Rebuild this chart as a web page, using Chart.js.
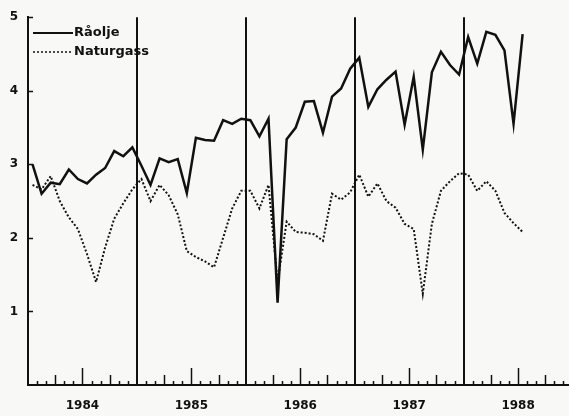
<!DOCTYPE html>
<html>
<head>
<meta charset="utf-8">
<script src="https://cdn.jsdelivr.net/npm/chart.js@4.4.1/dist/chart.umd.min.js"></script>
<style>
  html, body { margin: 0; padding: 0; background: #f8f8f6; }
  #wrap { width: 569px; height: 416px; position: relative; }
</style>
</head>
<body>
<div id="wrap"><canvas id="priceChart"></canvas></div>
<script>
// monthly values, Jan 1984 .. Jul 1988
const years = ['1984', '1985', '1986', '1987', '1988'];
const yTicks = [1, 2, 3, 4, 5];

const raolje = [
  3.00, 2.60, 2.75, 2.73, 2.93, 2.80, 2.74, 2.86, 2.95, 3.18, 3.11, 3.23,
  2.98, 2.72, 3.08, 3.03, 3.07, 2.61, 3.36, 3.33, 3.32, 3.60, 3.55, 3.62,
  3.60, 3.38, 3.62, 1.12, 3.34, 3.50, 3.85, 3.86, 3.43, 3.92, 4.03, 4.30,
  4.45, 3.78, 4.02, 4.15, 4.26, 3.54, 4.19, 3.20, 4.25, 4.53, 4.35, 4.22,
  4.73, 4.37, 4.80, 4.76, 4.55, 3.55, 4.77
];

const naturgass = [
  2.72, 2.66, 2.84, 2.50, 2.28, 2.12, 1.78, 1.40, 1.87, 2.26, 2.47, 2.66,
  2.80, 2.50, 2.72, 2.58, 2.32, 1.82, 1.74, 1.68, 1.60, 2.00, 2.40, 2.64,
  2.64, 2.40, 2.72, 1.40, 2.22, 2.08, 2.07, 2.05, 1.96, 2.60, 2.52, 2.62,
  2.86, 2.56, 2.74, 2.50, 2.41, 2.19, 2.12, 1.24, 2.19, 2.64, 2.77, 2.88,
  2.86, 2.64, 2.77, 2.64, 2.34, 2.20, 2.08
];

const ink = '#111111';

// inward axis ticks + the small legend in the top left corner
const axisDecor = {
  id: 'axisDecor',
  afterDraw(chart) {
    const { ctx, chartArea, scales } = chart;
    const xs = scales.x, ys = scales.y;
    ctx.save();
    ctx.strokeStyle = ink;
    ctx.lineWidth = 1.5;
    ctx.beginPath();
    for (let m = 1; m < 60; m++) {
      if (m % 12 === 0) continue;
      const len = m % 6 === 0 ? 17 : (m % 3 === 0 ? 10 : 4);
      const px = Math.round(xs.getPixelForValue(m)) + 0.5;
      if (px > chartArea.right) break;
      ctx.moveTo(px, chartArea.bottom);
      ctx.lineTo(px, chartArea.bottom - len);
    }
    yTicks.forEach(v => {
      const py = Math.round(ys.getPixelForValue(v)) + 0.5;
      ctx.moveTo(chartArea.left, py);
      ctx.lineTo(chartArea.left + 5, py);
    });
    ctx.stroke();

    // legend
    ctx.font = 'bold 13px "DejaVu Sans"';
    ctx.textBaseline = 'middle';
    ctx.fillStyle = ink;
    chart.data.datasets.forEach((ds, i) => {
      const y = 33 + i * 19;
      ctx.beginPath();
      ctx.lineWidth = i === 0 ? 2 : 1.5;
      ctx.setLineDash(ds.borderDash || []);
      ctx.moveTo(33, y);
      ctx.lineTo(73, y);
      ctx.stroke();
      ctx.setLineDash([]);
      ctx.fillText(ds.label, 74, y);
    });
    ctx.restore();
  }
};

new Chart(document.getElementById('priceChart'), {
  type: 'line',
  data: {
    datasets: [
      {
        label: 'Råolje',
        data: raolje.map((v, i) => ({ x: i + 0.5, y: v })),
        borderColor: ink,
        borderWidth: 2.5,
        pointRadius: 0,
        tension: 0,
        fill: false
      },
      {
        label: 'Naturgass',
        data: naturgass.map((v, i) => ({ x: i + 0.5, y: v })),
        borderColor: ink,
        borderWidth: 2,
        borderDash: [2, 2],
        pointRadius: 0,
        tension: 0,
        fill: false
      }
    ]
  },
  options: {
    responsive: true,
    maintainAspectRatio: false,
    animation: false,
    layout: { padding: { top: 15, right: 1, left: 0, bottom: 0 } },
    plugins: {
      legend: { display: false },
      tooltip: { enabled: false }
    },
    scales: {
      x: {
        type: 'linear',
        min: 0,
        max: 59.5,
        afterFit: s => { s.height = 31; },
        ticks: {
          stepSize: 1,
          autoSkip: false,
          maxRotation: 0,
          padding: 0,
          color: ink,
          font: { family: 'DejaVu Sans', size: 12, weight: 'bold', lineHeight: 3.5 },
          callback: v => (v % 12 === 6 ? years[(v - 6) / 12] : '')
        },
        grid: {
          drawTicks: false,
          lineWidth: 2,
          color: c => (c.tick && c.tick.value % 12 === 0 && c.tick.value > 0 ? ink : 'rgba(0,0,0,0)')
        },
        border: { display: true, color: ink, width: 2 }
      },
      y: {
        min: 0,
        max: 5,
        afterFit: s => { s.width = 28; },
        ticks: {
          stepSize: 1,
          padding: 10,
          color: ink,
          font: { family: 'DejaVu Sans', size: 12, weight: 'bold' },
          callback: v => (v === 0 ? '' : v)
        },
        grid: { drawTicks: false, color: 'rgba(0,0,0,0)' },
        border: { display: true, color: ink, width: 2 }
      }
    }
  },
  plugins: [axisDecor]
});
</script>
</body>
</html>
